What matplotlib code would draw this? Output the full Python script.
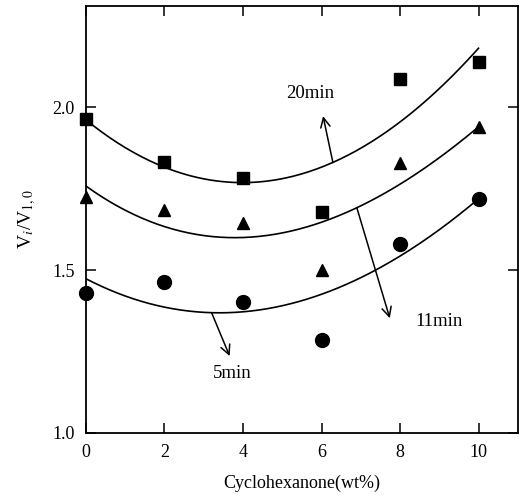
import numpy as np
import matplotlib
matplotlib.use('Agg')
import matplotlib.pyplot as plt

plt.rcParams['font.family'] = ['Liberation Serif', 'DejaVu Serif']
plt.rcParams['mathtext.fontset'] = 'stix'

# measured points
x_pts = [0, 2, 4, 6, 8, 10]
y_5min = [1.43, 1.463, 1.401, 1.285, 1.58, 1.717]
y_11min = [1.725, 1.684, 1.643, 1.50, 1.829, 1.938]
y_20min = [1.963, 1.832, 1.781, 1.679, 2.086, 2.137]

# trend curves read at integer steps
x_curve = [0, 2, 4, 5, 6, 8, 10]
c_5min = [1.471, 1.393, 1.367, 1.386, 1.428, 1.546, 1.717]
c_11min = [1.754, 1.643, 1.597, 1.610, 1.638, 1.776, 1.935]
c_20min = [1.960, 1.817, 1.766, 1.781, 1.815, 1.955, 2.180]

x_ticks = [0, 2, 4, 6, 8, 10]
y_ticks = [1.0, 1.5, 2.0]

fig = plt.figure(figsize=(5.23, 4.97), dpi=100)
ax = fig.add_axes([0.1644, 0.1288, 0.8256, 0.8592])

xs = np.linspace(0, 10, 200)
fits = []
for cy in (c_5min, c_11min, c_20min):
    p = np.polyfit(x_curve, cy, 3)
    fits.append(p)
    ax.plot(xs, np.polyval(p, xs), color='black', lw=1.2)

ax.plot(x_pts, y_5min, 'o', color='black', ms=10, clip_on=False)
ax.plot(x_pts, y_11min, '^', color='black', ms=9, clip_on=False)
ax.plot(x_pts, y_20min, 's', color='black', ms=8, clip_on=False)

# arrows start on their curves
arrow = dict(arrowstyle='->', color='black', lw=1.1, mutation_scale=17,
             shrinkA=0, shrinkB=0)
ax.annotate('', xy=(6.04, 1.972), xytext=(6.29, np.polyval(fits[2], 6.29)), arrowprops=arrow)
ax.annotate('', xy=(7.74, 1.352), xytext=(6.90, np.polyval(fits[1], 6.90)), arrowprops=arrow)
ax.annotate('', xy=(3.66, 1.236), xytext=(3.20, np.polyval(fits[0], 3.20)), arrowprops=arrow)

ax.text(5.70, 2.042, '20min', fontsize=13.5, ha='center', va='center')
ax.text(9.0, 1.341, '11min', fontsize=13.5, ha='center', va='center')
ax.text(3.73, 1.181, '5min', fontsize=13.5, ha='center', va='center')

ax.set_xlim(0, 11)
ax.set_ylim(1.0, 2.31)
ax.set_xticks(x_ticks)
ax.set_yticks(y_ticks)
ax.set_yticklabels(['1.0', '1.5', '2.0'])
ax.tick_params(direction='in', length=7, width=1.1, labelsize=13,
               top=True, right=True, pad=8)

for s in ax.spines.values():
    s.set_linewidth(1.3)

ax.set_xlabel('Cyclohexanone(wt%)', fontsize=13, labelpad=10)
ax.set_ylabel(r'V$_i$/V$_{1,0}$', fontsize=14, labelpad=10)

fig.savefig('out.png', dpi=100)
